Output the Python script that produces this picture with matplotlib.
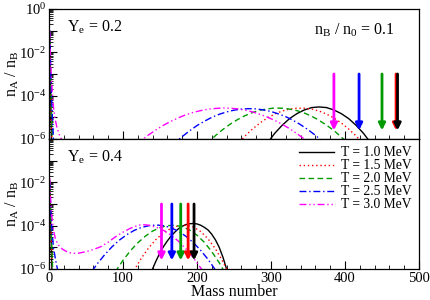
import numpy as np
import matplotlib
matplotlib.use('Agg')
import matplotlib.pyplot as plt
from matplotlib.ticker import FixedLocator, FuncFormatter, LogLocator, MultipleLocator

plt.rcParams['font.family'] = 'Liberation Serif'
plt.rcParams['mathtext.fontset'] = 'custom'
plt.rcParams['mathtext.rm'] = 'Liberation Serif'
plt.rcParams['mathtext.it'] = 'Liberation Serif'

# ---- Ye = 0.2 panel (log10 of n_A / n_B) ----
a02_t10 = [1, 2, 3, 4, 295, 305, 315, 325, 335, 345, 355, 365, 375, 385, 395, 405, 415, 425, 435]
n02_t10 = [-1.1, -3.6, -5.5, -7.0, -6.19, -5.74, -5.37, -5.06, -4.83, -4.66, -4.55, -4.52, -4.55,
           -4.66, -4.83, -5.06, -5.37, -5.74, -6.19]
a02_t15 = [1, 2, 3, 4, 255, 265, 275, 285, 295, 305, 315, 325, 335, 345, 355, 365, 375, 385, 395,
           405, 415, 425]
n02_t15 = [-1.05, -3.2, -4.8, -6.2, -6.23, -5.86, -5.54, -5.26, -5.03, -4.85, -4.71, -4.62, -4.58,
           -4.58, -4.62, -4.71, -4.85, -5.03, -5.26, -5.54, -5.86, -6.23]
a02_t20 = [1, 2, 3, 4, 5, 215, 225, 235, 245, 255, 265, 275, 285, 295, 305, 315, 325, 335, 345,
           355, 365, 375, 385, 395, 405]
n02_t20 = [-1.0, -2.8, -4.2, -5.4, -6.4, -6.17, -5.84, -5.56, -5.31, -5.10, -4.92, -4.78, -4.67,
           -4.61, -4.57, -4.58, -4.62, -4.69, -4.80, -4.95, -5.14, -5.36, -5.61, -5.91, -6.23]
a02_t25 = [1, 2, 3, 4, 5, 6, 7, 170, 180, 190, 200, 210, 220, 230, 240, 250, 260, 270, 280, 290,
           300, 310, 320, 330, 340, 350, 360, 370]
n02_t25 = [-1.0, -2.5, -3.6, -4.5, -5.3, -6.0, -6.5, -6.18, -5.89, -5.62, -5.38, -5.18, -5.00,
           -4.86, -4.75, -4.67, -4.62, -4.60, -4.61, -4.66, -4.73, -4.84, -4.97, -5.14, -5.34,
           -5.57, -5.83, -6.12]
a02_t30 = [1, 2, 3, 4, 6, 8, 11, 14, 18, 125, 135, 145, 155, 165, 175, 185, 195, 205, 215, 225,
           235, 245, 255, 265, 275, 285, 295, 305, 315, 325, 335, 345, 355]
n02_t30 = [-1.0, -2.2, -3.0, -3.6, -4.5, -5.05, -5.5, -5.8, -6.1, -6.05, -5.80, -5.57, -5.36,
           -5.18, -5.02, -4.88, -4.77, -4.69, -4.62, -4.59, -4.57, -4.58, -4.61, -4.67, -4.75,
           -4.86, -4.99, -5.14, -5.32, -5.52, -5.75, -6.0, -6.28]
arrows02 = [471, 469, 450, 419, 385]

# ---- Ye = 0.4 panel ----
a04_t10 = [1, 2, 3, 4, 138, 145, 150, 155, 160, 165, 170, 175, 180, 185, 190, 195, 200, 205, 210,
           215, 220, 225, 230, 235, 240, 243]
n04_t10 = [-2.0, -3.5, -4.8, -6.2, -6.15, -5.6, -5.25, -4.95, -4.7, -4.48, -4.3, -4.14, -4.03,
           -3.95, -3.91, -3.9, -3.92, -3.98, -4.08, -4.2, -4.4, -4.66, -5.0, -5.45, -6.0, -6.4]
a04_t15 = [1, 2, 3, 4, 5, 115, 125, 135, 145, 155, 165, 175, 185, 195, 205, 215, 225, 235, 240, 245]
n04_t15 = [-2.0, -3.3, -4.5, -5.6, -6.5, -6.06, -5.49, -5.01, -4.62, -4.32, -4.12, -4.0, -3.97,
           -4.06, -4.27, -4.61, -5.07, -5.66, -6.0, -6.37]
a04_t20 = [1, 2, 3, 4, 5, 90, 100, 110, 120, 130, 140, 150, 160, 170, 180, 190, 200, 210, 220,
           230, 240]
n04_t20 = [-1.9, -3.1, -4.2, -5.2, -6.1, -6.11, -5.60, -5.16, -4.79, -4.49, -4.25, -4.09, -4.0,
           -3.98, -4.05, -4.2, -4.44, -4.77, -5.2, -5.71, -6.31]
a04_t25 = [1, 2, 4, 6, 9, 12, 55, 65, 75, 85, 95, 105, 115, 125, 135, 145, 155, 165, 175, 185,
           195, 205, 215, 225]
n04_t25 = [-2.0, -3.0, -4.2, -5.0, -5.6, -6.1, -6.25, -5.77, -5.35, -4.98, -4.67, -4.42, -4.22,
           -4.08, -4.0, -3.97, -4.0, -4.1, -4.26, -4.49, -4.78, -5.14, -5.56, -6.05]
a04_t30 = [1, 2, 3, 4, 6, 9, 13, 18, 25, 32, 40, 50, 60, 70, 80, 90, 100, 110, 120, 126, 135, 145,
           155, 165, 175, 185, 195, 205, 210]
n04_t30 = [-1.8, -2.6, -3.2, -3.6, -4.2, -4.66, -4.9, -5.08, -5.22, -5.28, -5.27, -5.2, -5.1,
           -4.97, -4.76, -4.51, -4.3, -4.12, -3.99, -3.95, -3.98, -4.07, -4.22, -4.44, -4.72,
           -5.07, -5.48, -5.95, -6.21]
arrows04 = [196, 188, 178, 166, 152]

labels = ['T = 1.0 MeV', 'T = 1.5 MeV', 'T = 2.0 MeV', 'T = 2.5 MeV', 'T = 3.0 MeV']
colors = ['black', 'red', '#009a00', 'blue', 'magenta']
dashes = [(None, None), (1, 2), (4, 2.5), (5, 2, 1, 2), (5, 2, 1, 2, 1, 2)]

fig = plt.figure(figsize=(4.31, 3.0), dpi=100)
ax1 = fig.add_axes([49/431, 1-139/300, 370/431, 130/300])
ax2 = fig.add_axes([49/431, 1-269/300, 370/431, 130/300])

panels = [
    (ax1, [a02_t10, a02_t15, a02_t20, a02_t25, a02_t30],
     [n02_t10, n02_t15, n02_t20, n02_t25, n02_t30], arrows02),
    (ax2, [a04_t10, a04_t15, a04_t20, a04_t25, a04_t30],
     [n04_t10, n04_t15, n04_t20, n04_t25, n04_t30], arrows04),
]

for ax, xs, ys, arr in panels:
    for i in range(5):
        line, = ax.plot(xs[i], 10**np.array(ys[i]), color=colors[i], lw=1.0, label=labels[i])
        if dashes[i][0] is not None:
            line.set_dashes(dashes[i])
    # arrows, drawn from T=3.0 up to T=1.0 so black ends on top
    for i in range(4, -1, -1):
        ax.annotate('', xy=(arr[i], 2.5e-6), xytext=(arr[i], 1e-3),
                    arrowprops=dict(arrowstyle='-|>', color=colors[i], lw=2,
                                    mutation_scale=10, shrinkA=0, shrinkB=0))
    ax.set_yscale('log')
    ax.set_ylim(1e-6, 1)
    ax.set_xlim(0, 500)
    ax.xaxis.set_major_locator(MultipleLocator(100))
    ax.xaxis.set_minor_locator(MultipleLocator(20))
    ax.yaxis.set_major_locator(FixedLocator([1e-6, 1e-5, 1e-4, 1e-3, 1e-2, 1e-1, 1]))
    ax.yaxis.set_minor_locator(LogLocator(base=10, subs=np.arange(2, 10), numticks=20))
    ax.tick_params(which='both', direction='in', top=False, right=False, labelsize=10.5)
    ax.tick_params(which='major', length=6, width=0.8, pad=2)
    ax.tick_params(which='minor', length=3, width=0.6)
    ax.set_ylabel('n$_A$ / n$_B$', fontsize=11.5)
    ax.yaxis.set_label_coords(-0.075, 0.5)
    for s in ax.spines.values():
        s.set_linewidth(0.9)


def ylab_top(v, pos):
    e = int(round(np.log10(v)))
    return '$10^{%d}$' % e if e % 2 == 0 else ''


def ylab_bot(v, pos):
    e = int(round(np.log10(v)))
    return '$10^{%d}$' % e if (e % 2 == 0 and e < 0) else ''


ax1.yaxis.set_major_formatter(FuncFormatter(ylab_top))
ax2.yaxis.set_major_formatter(FuncFormatter(ylab_bot))
ax1.tick_params(labelbottom=False)
ax2.set_xlabel('Mass number', fontsize=11.5)
ax2.xaxis.set_label_coords(0.5, -0.118)

ax1.text(0.05, 0.86, 'Y$_e$ = 0.2', transform=ax1.transAxes, fontsize=11.5, va='center')
ax1.text(0.935, 0.84, 'n$_B$ / n$_0$ = 0.1', transform=ax1.transAxes, fontsize=11.5,
         va='center', ha='right')
ax2.text(0.05, 0.86, 'Y$_e$ = 0.4', transform=ax2.transAxes, fontsize=11.5, va='center')

leg = ax2.legend(loc='upper right', bbox_to_anchor=(1.0, 1.0), frameon=False, fontsize=9.8,
                 handlelength=2.6, handletextpad=0.5, labelspacing=0.0, borderaxespad=0.15)

fig.savefig('out.png', dpi=100)
